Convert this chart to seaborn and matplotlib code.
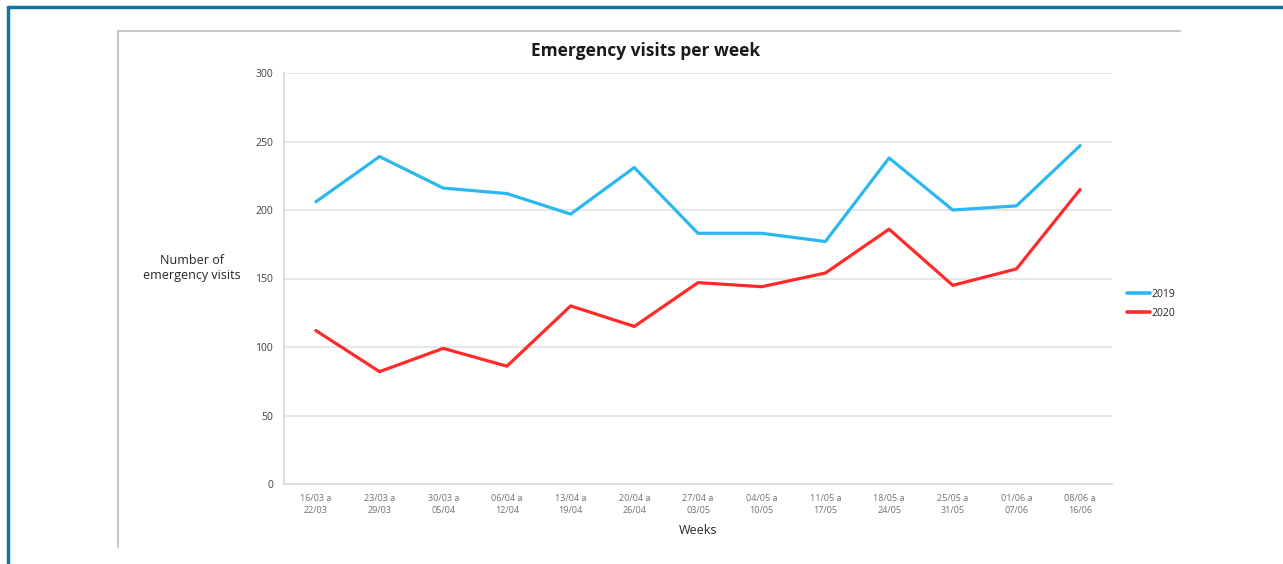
import numpy as np
import pandas as pd
import matplotlib
matplotlib.use("Agg")
import matplotlib.pyplot as plt
from matplotlib.lines import Line2D
import seaborn as sns

weeks = [
    "16/03 a\n22/03", "23/03 a\n29/03", "30/03 a\n05/04", "06/04 a\n12/04",
    "13/04 a\n19/04", "20/04 a\n26/04", "27/04 a\n03/05", "04/05 a\n10/05",
    "11/05 a\n17/05", "18/05 a\n24/05", "25/05 a\n31/05", "01/06 a\n07/06",
    "08/06 a\n16/06",
]
visits_2019 = [206, 239, 216, 212, 197, 231, 183, 183, 177, 238, 200, 203, 247]
visits_2020 = [112, 82, 99, 86, 130, 115, 147, 144, 154, 186, 145, 157, 215]
y_ticks = [0, 50, 100, 150, 200, 250, 300]

df = pd.DataFrame({
    "week": weeks * 2,
    "pos": list(range(len(weeks))) * 2,
    "visits": visits_2019 + visits_2020,
    "year": ["2019"] * len(weeks) + ["2020"] * len(weeks),
})

sns.set_theme(style="white")
plt.rcParams["font.family"] = ["Open Sans", "DejaVu Sans"]

W, H = 1283, 564
fig = plt.figure(figsize=(W / 100, H / 100), dpi=100)
ax = fig.add_axes([284 / W, 1 - 484 / H, (1112 - 284) / W, (484 - 73) / H])

palette = {"2019": "#2bb8f0", "2020": "#ff2b2b"}
sns.lineplot(data=df, x="pos", y="visits", hue="year", palette=palette,
             linewidth=2.3, sort=False, ax=ax, legend=False)

ax.set_xlim(-0.5, len(weeks) - 0.5)
ax.set_ylim(0, 300)
ax.set_yticks(y_ticks)
ax.set_yticklabels([str(v) for v in y_ticks], fontsize=7.5, color="#404040")
ax.set_xticks(range(len(weeks)))
ax.set_xticklabels(weeks, fontsize=6.5, color="#707070", linespacing=1.4)
ax.set_xticks(np.arange(-0.5, len(weeks), 1), minor=True)
ax.tick_params(axis="x", which="major", length=0, pad=7)
ax.tick_params(axis="x", which="minor", length=4, color="#d0d0d0", width=1)
ax.tick_params(axis="y", length=5, color="#d8d8d8", width=1, pad=3)

ax.grid(axis="y", color="#e3e3e3", linewidth=1.2)
ax.set_axisbelow(True)
for side in ["top", "right"]:
    ax.spines[side].set_visible(False)
for side in ["left", "bottom"]:
    ax.spines[side].set_color("#d8d8d8")
    ax.spines[side].set_linewidth(1.2)

ax.set_xlabel("")
ax.set_ylabel("")
fig.text(698 / W, 1 - 530 / H, "Weeks", ha="center", va="center",
         fontsize=9, color="#262626")
fig.text(192 / W, 1 - 268 / H, "Number of\nemergency visits", ha="center",
         va="center", fontsize=9, color="#262626", linespacing=1.2)
fig.text(646 / W, 1 - 51 / H, "Emergency visits per week", ha="center",
         va="center", fontsize=12.5, fontweight="bold", color="#1a1a1a")

handles = [Line2D([], [], color=palette[y], linewidth=2.6) for y in ["2019", "2020"]]
fig.legend(handles, ["2019", "2020"], loc="center left",
           bbox_to_anchor=(1122 / W, 1 - 304 / H), frameon=False,
           fontsize=7.5, handlelength=2.2, handletextpad=0.1,
           labelspacing=0.75, borderpad=0)

# outer frame and inner chart border
fig.add_artist(Line2D([8 / W, 8 / W], [0, 1 - 7 / H], color="#0d77a0",
                      linewidth=2.5, transform=fig.transFigure))
fig.add_artist(Line2D([8 / W, 1], [1 - 7 / H, 1 - 7 / H], color="#0d77a0",
                      linewidth=2.5, transform=fig.transFigure))
fig.add_artist(Line2D([118 / W, 118 / W], [1 - 547 / H, 1 - 31 / H],
                      color="#c8c8c8", linewidth=1.5, transform=fig.transFigure))
fig.add_artist(Line2D([118 / W, 1180 / W], [1 - 31 / H, 1 - 31 / H],
                      color="#c8c8c8", linewidth=1.5, transform=fig.transFigure))

fig.savefig("out.png", dpi=100)
plt.close(fig)
